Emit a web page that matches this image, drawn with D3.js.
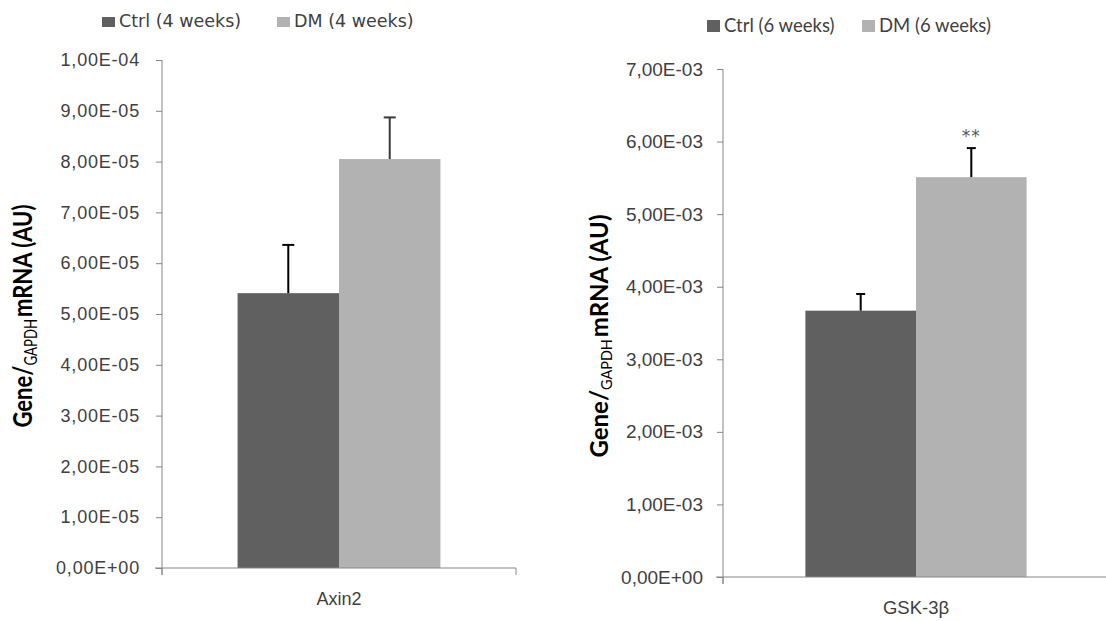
<!DOCTYPE html>
<html>
<head>
<meta charset="utf-8">
<script src="https://cdn.jsdelivr.net/npm/d3@7"></script>
<style>
  body { margin: 0; background: #fff; }
  svg { display: block; }
</style>
</head>
<body>
<svg id="chart" width="1106" height="621"></svg>
<script>
// left panel data (4 weeks)
var leftCategories = ["Axin2"];
var leftSeries = ["Ctrl (4 weeks)", "DM (4 weeks)"];
var leftMeans = [5.41e-5, 8.05e-5];
var leftErrors = [0.95e-5, 0.82e-5];
var leftTicks = [0, 1e-5, 2e-5, 3e-5, 4e-5, 5e-5, 6e-5, 7e-5, 8e-5, 9e-5, 1e-4];
var leftMarks = ["", ""];

// right panel data (6 weeks)
var rightCategories = ["GSK-3β"];
var rightSeries = ["Ctrl (6 weeks)", "DM (6 weeks)"];
var rightMeans = [3.67e-3, 5.51e-3];
var rightErrors = [0.23e-3, 0.40e-3];
var rightTicks = [0, 1e-3, 2e-3, 3e-3, 4e-3, 5e-3, 6e-3, 7e-3];
var rightMarks = ["", "**"];

var barColors = ["#606060", "#b2b2b2"];
var axisColor = "#868686";
var textColor = "#404040";

var svg = d3.select("#chart");
svg.append("rect").attr("width", 1106).attr("height", 621).attr("fill", "#fff");

// "1,00E-04" style labels
function sci(v) {
  var s = v.toExponential(2).split("e");
  var exp = +s[1];
  var e = (exp < 0 ? "-" : "+") + (Math.abs(exp) < 10 ? "0" : "") + Math.abs(exp);
  return s[0].replace(".", ",") + "E" + e;
}

function drawPanel(p) {
  var g = svg.append("g")
      .style("font-family", p.font);

  var y = d3.scaleLinear().domain([0, p.ticks[p.ticks.length - 1]]).range([p.bottom, p.top]);
  var x0 = d3.scaleBand().domain(p.categories).range([p.left, p.right]).padding(0);
  var x1 = d3.scaleBand().domain(p.series).range([0, x0.bandwidth()])
      .paddingInner(0).paddingOuter(0.745);

  // y axis
  var yAxis = g.append("g")
      .attr("transform", "translate(" + p.left + ",0)")
      .call(d3.axisLeft(y).tickValues(p.ticks).tickFormat(sci)
        .tickSize(6).tickSizeOuter(0).tickPadding(p.tickPad));
  yAxis.select(".domain").remove();
  yAxis.selectAll(".tick line").attr("stroke", axisColor);
  yAxis.selectAll(".tick text")
      .attr("fill", textColor)
      .style("font-size", p.tickFont + "px")
      .style("letter-spacing", p.spacing + "px");
  yAxis.append("line")
      .attr("x1", 0).attr("x2", 0)
      .attr("y1", p.top).attr("y2", p.bottom + 7)
      .attr("stroke", axisColor);

  // bars
  var groups = g.selectAll(".cat")
    .data(p.categories)
    .enter().append("g")
      .attr("class", "cat")
      .attr("transform", function(d) { return "translate(" + x0(d) + ",0)"; });

  var bars = groups.selectAll(".bar")
    .data(function() {
      return p.series.map(function(s, i) {
        return { series: s, i: i, mean: p.means[i], err: p.errors[i], mark: p.marks[i] };
      });
    })
    .enter().append("g")
      .attr("class", "bar");

  bars.append("rect")
      .attr("x", function(d) { return x1(d.series); })
      .attr("y", function(d) { return y(d.mean); })
      .attr("width", x1.bandwidth())
      .attr("height", function(d) { return p.bottom - y(d.mean); })
      .attr("fill", function(d) { return barColors[d.i]; });

  bars.append("line")
      .attr("x1", function(d) { return x1(d.series) + x1.bandwidth() / 2; })
      .attr("x2", function(d) { return x1(d.series) + x1.bandwidth() / 2; })
      .attr("y1", function(d) { return y(d.mean); })
      .attr("y2", function(d) { return y(d.mean + d.err); })
      .attr("stroke", function(d) { return p.errColors[d.i]; })
      .attr("stroke-width", 2);

  bars.append("line")
      .attr("x1", function(d) { return x1(d.series) + x1.bandwidth() / 2 - p.cap / 2; })
      .attr("x2", function(d) { return x1(d.series) + x1.bandwidth() / 2 + p.cap / 2; })
      .attr("y1", function(d) { return y(d.mean + d.err); })
      .attr("y2", function(d) { return y(d.mean + d.err); })
      .attr("stroke", function(d) { return p.errColors[d.i]; })
      .attr("stroke-width", 2);

  bars.append("text")
      .attr("x", function(d) { return x1(d.series) + x1.bandwidth() / 2; })
      .attr("y", function(d) { return y(d.mean + d.err) - 6; })
      .attr("text-anchor", "middle")
      .attr("fill", "#595959")
      .style("font-family", "DejaVu Sans")
      .style("font-size", "17px")
      .style("letter-spacing", "1px")
      .text(function(d) { return d.mark; });

  // x axis with ticks on category boundaries
  var xAxis = g.append("g")
      .attr("transform", "translate(0," + p.bottom + ")")
      .call(d3.axisBottom(x0).tickSize(0).tickPadding(p.catPad));
  xAxis.select(".domain").remove();
  xAxis.selectAll(".tick text")
      .attr("fill", textColor)
      .style("font-size", p.catFont + "px");
  xAxis.append("line")
      .attr("x1", p.left - 7).attr("x2", p.right)
      .attr("y1", 0).attr("y2", 0)
      .attr("stroke", axisColor);
  xAxis.selectAll(".edge")
    .data(x0.range())
    .enter().append("line")
      .attr("class", "edge")
      .attr("x1", function(d) { return d; }).attr("x2", function(d) { return d; })
      .attr("y1", 0).attr("y2", 7)
      .attr("stroke", axisColor);

  // y title
  var title = g.append("text")
      .attr("transform", "translate(" + p.titleX + "," + p.titleY + ") rotate(-90) scale(1," + p.titleStretch + ")")
      .attr("text-anchor", "middle")
      .attr("fill", "#000")
      .style("font-family", "Lato")
      .style("font-weight", "bold")
      .style("font-size", p.titleFont + "px");
  title.append("tspan").text("Gene/");
  title.append("tspan").attr("dy", 4).style("font-size", (p.titleFont * 0.6) + "px")
      .style("font-weight", "normal").text("GAPDH");
  title.append("tspan").attr("dy", -4).attr("dx", 2).text("mRNA (AU)");

  // legend
  var leg = g.selectAll(".leg")
    .data(p.series)
    .enter().append("g")
      .attr("class", "leg")
      .attr("transform", function(d, i) { return "translate(" + p.legX[i] + "," + p.legY + ")"; });
  leg.append("rect")
      .attr("x", 0).attr("y", -p.swH)
      .attr("width", p.swW).attr("height", p.swH)
      .attr("fill", function(d, i) { return barColors[i]; });
  leg.append("text")
      .attr("x", p.swW + 4)
      .attr("y", 0)
      .attr("fill", textColor)
      .style("font-size", p.legFont + "px")
      .text(function(d) { return d; });
}

drawPanel({
  categories: leftCategories, series: leftSeries, means: leftMeans, errors: leftErrors,
  ticks: leftTicks, marks: leftMarks,
  font: "DejaVu Sans", tickFont: 18, catFont: 18, legFont: 17.5, spacing: 0.8,
  left: 162, right: 516, top: 60, bottom: 568, tickPad: 16, catPad: 24,
  cap: 12, errColors: ["#000", "#3a3a3a"],
  titleX: 32, titleY: 316, titleFont: 22, titleStretch: 1.25,
  legX: [102, 277], legY: 27, swW: 13, swH: 10
});

drawPanel({
  categories: rightCategories, series: rightSeries, means: rightMeans, errors: rightErrors,
  ticks: rightTicks, marks: rightMarks,
  font: "Lato", tickFont: 19, catFont: 18.5, legFont: 18.5, spacing: 0,
  left: 723, right: 1109, top: 69, bottom: 577, tickPad: 14, catPad: 24,
  cap: 9, errColors: ["#000", "#000"],
  titleX: 608, titleY: 336, titleFont: 24, titleStretch: 1.05,
  legX: [707, 862], legY: 32, swW: 13, swH: 12
});
</script>
</body>
</html>
